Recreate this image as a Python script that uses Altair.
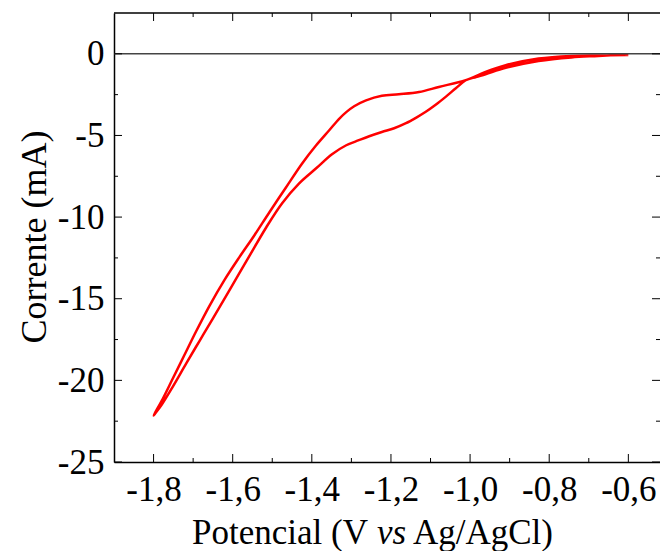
import altair as alt
import pandas as pd

# Forward (cathodic) scan: -0.6 V -> -1.8 V
fwd_V = [-0.600, -0.676, -0.744, -0.827, -0.910, -0.961, -1.011, -1.079, -1.129, -1.180,
         -1.223, -1.263, -1.293, -1.313, -1.331, -1.356, -1.389, -1.424, -1.465, -1.508,
         -1.545, -1.583, -1.621, -1.659, -1.692, -1.722, -1.752, -1.777, -1.800]
fwd_I = [-0.07, -0.10, -0.13, -0.29, -0.70, -1.11, -1.61, -2.03, -2.34, -2.48,
         -2.57, -2.85, -3.21, -3.57, -3.98, -4.68, -5.60, -6.70, -8.17, -9.73,
         -11.11, -12.45, -13.86, -15.45, -16.98, -18.45, -19.92, -21.14, -22.15]
# Reverse (anodic) scan: -1.8 V -> -0.6 V
rev_V = [-1.795, -1.780, -1.752, -1.717, -1.684, -1.651, -1.608, -1.558, -1.515, -1.475,
         -1.432, -1.389, -1.349, -1.313, -1.281, -1.255, -1.223, -1.192, -1.162, -1.137,
         -1.112, -1.087, -1.061, -1.036, -1.011, -0.985, -0.961, -0.910, -0.827, -0.744,
         -0.676, -0.600]
rev_I = [-22.00, -21.51, -20.41, -18.94, -17.59, -16.25, -14.47, -12.39, -10.62, -9.15,
         -7.93, -7.01, -6.15, -5.60, -5.29, -5.05, -4.79, -4.56, -4.25, -3.92,
         -3.55, -3.12, -2.62, -2.11, -1.62, -1.42, -1.25, -0.86, -0.44, -0.22,
         -0.13, -0.03]

x_major = [-1.8, -1.6, -1.4, -1.2, -1.0, -0.8, -0.6]
x_minor = [-1.7, -1.5, -1.3, -1.1, -0.9, -0.7]
y_major = [-25, -20, -15, -10, -5, 0]
y_minor = [-22.5, -17.5, -12.5, -7.5, -2.5]

V = fwd_V + rev_V
I = fwd_I + rev_I
df = pd.DataFrame({"V": V, "I": I, "k": list(range(len(V)))})

FONT = "Liberation Serif"
W, H = 546, 449
xs = alt.Scale(domain=[-1.9, -0.52], nice=False, zero=False)
ys = alt.Scale(domain=[-25, 2.5], nice=False, zero=False)

xlab = "replace(replace(format(datum.value, '.1f'), '\u2212', '-'), '.', ',')"
ylab = "replace(format(datum.value, 'd'), '\u2212', '-')"

curve = alt.Chart(df).mark_line(
    color="#ff0000", strokeWidth=2.5, interpolate="catmull-rom"
).encode(
    x=alt.X("V:Q", scale=xs, axis=alt.Axis(
        orient="bottom", values=x_major, ticks=False, tickSize=0, domain=True,
        domainColor="black", domainWidth=1.5, grid=False, title=None,
        labelExpr=xlab, labelFont=FONT, labelFontSize=35, labelColor="black",
        labelPadding=10)),
    y=alt.Y("I:Q", scale=ys, axis=alt.Axis(
        orient="left", values=y_major, ticks=False, tickSize=0, domain=True,
        domainColor="black", domainWidth=1.5, grid=False, title=None,
        labelExpr=ylab, labelFont=FONT, labelFontSize=35, labelColor="black",
        labelPadding=10)),
    order="k:Q",
)


def vticks(vals, y0, y1):
    return alt.Chart(pd.DataFrame({"v": vals})).mark_rule(color="black", strokeWidth=1).encode(
        x=alt.X("v:Q", scale=xs, axis=None), y=alt.value(y0), y2=alt.value(y1))


def hticks(vals, x0, x1):
    return alt.Chart(pd.DataFrame({"v": vals})).mark_rule(color="black", strokeWidth=1).encode(
        y=alt.Y("v:Q", scale=ys, axis=None), x=alt.value(x0), x2=alt.value(x1))


ticks = [
    vticks(x_major, H, H - 8), vticks(x_minor, H, H - 4),
    vticks(x_major, 0, 8), vticks(x_minor, 0, 4),
    hticks(y_major, 0, 8), hticks(y_minor, 0, 4),
    hticks(y_major, W - 8, W), hticks(y_minor, W - 4, W),
]

top_frame = alt.Chart(pd.DataFrame({"f": [0]})).mark_rule(color="black", strokeWidth=1.5).encode(
    x=alt.value(0), x2=alt.value(W), y=alt.value(0))

zero = alt.Chart(pd.DataFrame({"z": [0]})).mark_rule(color="#444444", strokeWidth=1.5).encode(
    y=alt.Y("z:Q", scale=ys, axis=None))

t1 = alt.Chart(pd.DataFrame({"t": ["Potencial (V"]})).mark_text(
    font=FONT, fontSize=35, align="left", baseline="alphabetic", color="black"
).encode(text="t:N", x=alt.value(78), y=alt.value(531))
t2 = alt.Chart(pd.DataFrame({"t": ["vs"]})).mark_text(
    font=FONT, fontSize=35, fontStyle="italic", align="left", baseline="alphabetic", color="black"
).encode(text="t:N", x=alt.value(263), y=alt.value(531))
t3 = alt.Chart(pd.DataFrame({"t": ["Ag/AgCl)"]})).mark_text(
    font=FONT, fontSize=35, align="left", baseline="alphabetic", color="black"
).encode(text="t:N", x=alt.value(299), y=alt.value(531))
ty = alt.Chart(pd.DataFrame({"t": ["Corrente (mA)"]})).mark_text(
    font=FONT, fontSize=36, align="center", baseline="alphabetic", angle=270, color="black"
).encode(text="t:N", x=alt.value(-68), y=alt.value(224))

chart = alt.layer(curve, zero, *ticks, top_frame, t1, t2, t3, ty).resolve_axis(
    x="independent", y="independent"
).properties(
    width=W, height=H,
    autosize=alt.AutoSizeParams(type="none"),
    padding={"left": 106, "top": 5, "right": 0, "bottom": 89},
).configure_view(stroke=None)

chart.save("out.html", embed_options={"renderer": "svg", "actions": False})
